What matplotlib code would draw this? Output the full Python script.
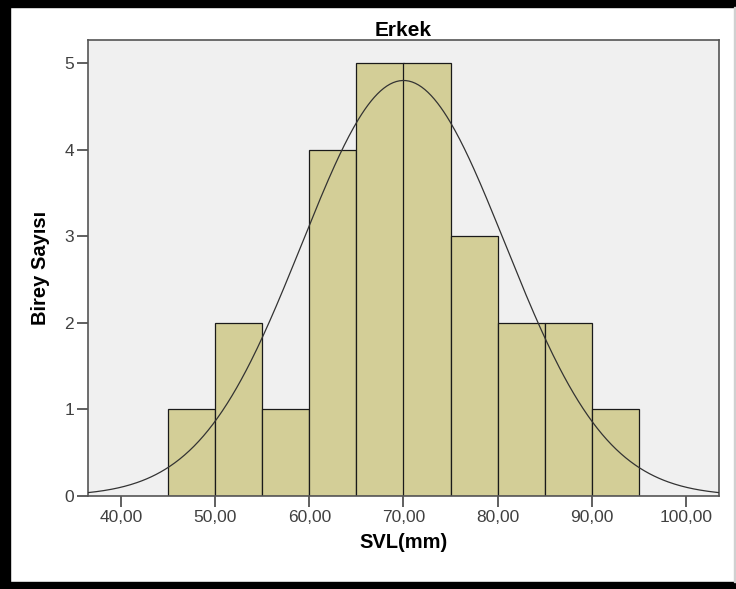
import numpy as np
import matplotlib
matplotlib.use("Agg")
import matplotlib.pyplot as plt
from matplotlib.patches import Rectangle

# SVL histogram (males), 5 mm bins
bin_left = [45, 50, 55, 60, 65, 70, 75, 80, 85, 90]
counts = [1, 2, 1, 4, 5, 5, 3, 2, 2, 1]
bin_width = 5
svl_mean = 70.0
svl_sd = 10.8
x_ticks = [40, 50, 60, 70, 80, 90, 100]
y_ticks = [0, 1, 2, 3, 4, 5]

plt.rcParams["font.family"] = ["Liberation Sans", "DejaVu Sans"]

fig = plt.figure(figsize=(7.36, 5.89), dpi=100)
fig.patch.set_facecolor("white")

# black frame round the figure, thin grey line on the right
fw, fh = 736, 589
fig.patches.append(Rectangle((0, 0), 10 / fw, 1, transform=fig.transFigure, color="black", zorder=0))
fig.patches.append(Rectangle((0, 1 - 7 / fh), 1, 7 / fh, transform=fig.transFigure, color="black", zorder=0))
fig.patches.append(Rectangle((0, 0), 1, 7 / fh, transform=fig.transFigure, color="black", zorder=0))
fig.patches.append(Rectangle((1 - 2 / fw, 7 / fh), 2 / fw, 1 - 14 / fh, transform=fig.transFigure,
                             color="#d0d0d0", zorder=0))

ax = fig.add_axes([88 / fw, 93 / fh, 631 / fw, 456 / fh])
ax.set_facecolor("#f0f0f0")

ax.bar(bin_left, counts, width=bin_width, align="edge", color="#d3ce97",
       edgecolor="#1a1a1a", linewidth=0.9, zorder=2)

xs = np.linspace(36.5, 103.5, 400)
n = sum(counts)
ys = n * bin_width / (svl_sd * np.sqrt(2 * np.pi)) * np.exp(-0.5 * ((xs - svl_mean) / svl_sd) ** 2)
ax.plot(xs, ys, color="#333333", linewidth=0.9, zorder=3)

ax.set_xlim(36.5, 103.5)
ax.set_ylim(0, 5.27)
ax.set_xticks(x_ticks)
ax.set_xticklabels([f"{v:.2f}".replace(".", ",") for v in x_ticks])
ax.set_yticks(y_ticks)

for side in ["left", "right", "top", "bottom"]:
    ax.spines[side].set_color("#555555")
    ax.spines[side].set_linewidth(1.2)

ax.tick_params(axis="both", direction="out", length=8, width=1.2, color="#444444",
               labelcolor="#404040", labelsize=12.5, pad=2)

ax.set_title("Erkek", fontsize=15, fontweight="bold", pad=2)
ax.set_xlabel("SVL(mm)", fontsize=14.5, fontweight="bold", labelpad=6)
ax.set_ylabel("Birey Sayısı", fontsize=14.5, fontweight="bold", labelpad=10)

fig.savefig("out.png", dpi=100)
